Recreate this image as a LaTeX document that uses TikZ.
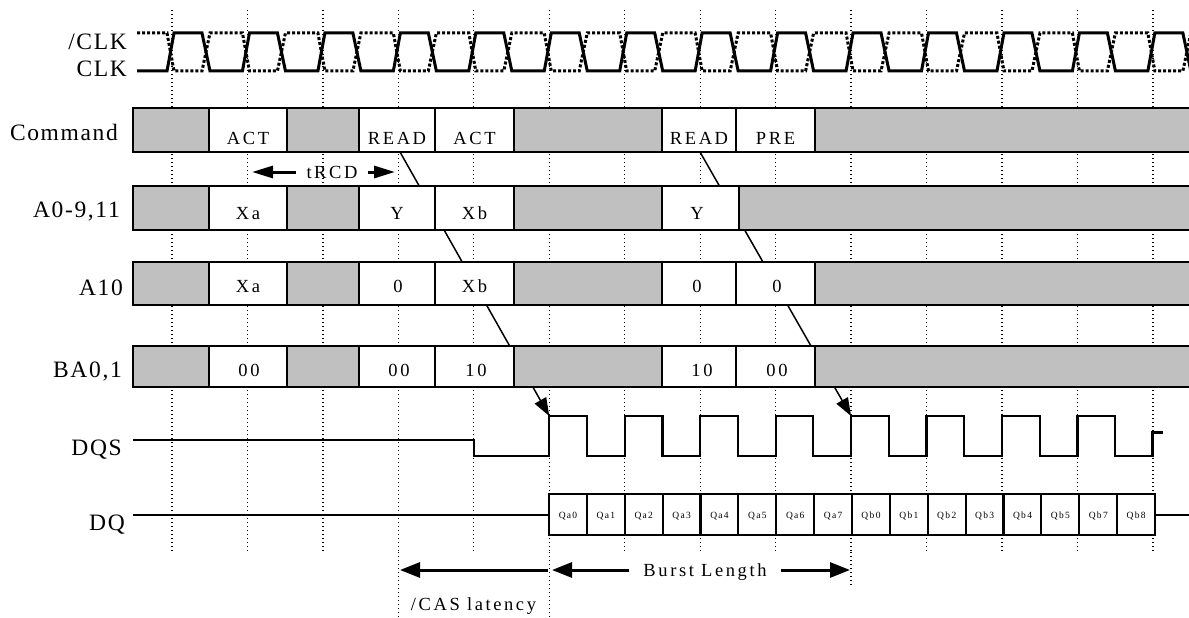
\documentclass[tikz,border=0pt]{standalone}
\usepackage{fontspec}
\setmainfont{Liberation Serif}
\newfontfamily\sigfont[LetterSpace=7]{Liberation Serif}
\newfontfamily\boxfont[LetterSpace=14]{Liberation Serif}
\usetikzlibrary{arrows.meta}
\definecolor{busgray}{RGB}{192,192,192}

\tikzset{
  cycline/.style={line width=1.3pt,dash pattern=on 1.3pt off 2.7pt},
  clkline/.style={line width=3pt},
  nclkline/.style={line width=3pt,dash pattern=on 3pt off 2pt},
  idlebox/.style={fill=busgray,draw=black,line width=2.5pt},
  databox/.style={fill=white,draw=black,line width=2.5pt},
  dqsline/.style={line width=2.2pt},
  dqbox/.style={fill=white,draw=black,line width=2.2pt},
  rowlbl/.style={anchor=base east,inner sep=0pt,font=\sigfont\fontsize{23.5}{23.5}\selectfont},
  boxlbl/.style={anchor=base,inner sep=0pt,font=\boxfont\fontsize{18.5}{18.5}\selectfont},
  dqlbl/.style={anchor=base,inner sep=0pt,font=\boxfont\fontsize{9.5}{9.5}\selectfont},
  spanlbl/.style={inner xsep=12pt,inner ysep=0pt,text depth=0pt,font=\boxfont\fontsize{18.5}{18.5}\selectfont},
  spanarr/.style={line width=3pt,-{Triangle[length=20pt,width=15pt]}},
  rcdarr/.style={line width=3pt,-{Triangle[length=21pt,width=12pt]}},
  cause/.style={line width=1.5pt,-{Triangle[length=18pt,width=13pt]}}
}

\begin{document}
\begin{tikzpicture}[x=1pt,y=-1pt]
\useasboundingbox (0,0) rectangle (1189,618);

\foreach \i in {0,...,13} \draw[cycline] ({172+75.45*\i},10) -- ({172+75.45*\i},552);
\draw[cycline] (398.35,552) -- (398.35,618) (549.25,552) -- (549.25,618) (851.05,552) -- (851.05,585);

\draw[clkline] (137,71) \foreach \i in {0,...,13} {-- ({167+75.45*\i},71) -- ({174+75.45*\i},33) -- ({202+75.45*\i},33) -- ({210+75.45*\i},71)};
\draw[nclkline] (137,33) \foreach \i in {0,...,13} {-- ({167+75.45*\i},33) -- ({174+75.45*\i},71) -- ({202+75.45*\i},71) -- ({210+75.45*\i},33)};

\coordinate (rd1) at (400,152); \coordinate (dqs1) at (549.25,416);
\coordinate (rd2) at (700,152); \coordinate (dqs2) at (851.05,416);
\draw[cause] (rd1) -- (dqs1); \draw[cause] (rd2) -- (dqs2);

\draw[idlebox] (133,108) rectangle (209,152); \draw[databox] (209,108) rectangle (287,152); \draw[idlebox] (287,108) rectangle (359,152);
\draw[databox] (359,108) rectangle (435,152); \draw[databox] (435,108) rectangle (514,152); \draw[idlebox] (514,108) rectangle (662,152);
\draw[databox] (662,108) rectangle (736,152); \draw[databox] (736,108) rectangle (815,152); \draw[idlebox] (815,108) rectangle (1200,152);
\node[boxlbl] (act1) at (248,144) {ACT}; \node[boxlbl] (read1) at (397,144) {READ}; \node[boxlbl] (act2) at (474.5,144) {ACT};
\node[boxlbl] (read2) at (699,144) {READ}; \node[boxlbl] (pre) at (775.5,144) {PRE};

\draw[idlebox] (133,186) rectangle (209,230); \draw[databox] (209,186) rectangle (287,230); \draw[idlebox] (287,186) rectangle (359,230);
\draw[databox] (359,186) rectangle (435,230); \draw[databox] (435,186) rectangle (514,230); \draw[idlebox] (514,186) rectangle (662,230);
\draw[databox] (662,186) rectangle (739,230); \draw[idlebox] (739,186) rectangle (1200,230);
\node[boxlbl] (adrxa) at (248,219) {Xa}; \node[boxlbl] (adry1) at (397,219) {Y}; \node[boxlbl] (adrxb) at (474.5,219) {Xb};
\node[boxlbl] (adry2) at (697,219) {Y};

\draw[idlebox] (133,262) rectangle (209,305); \draw[databox] (209,262) rectangle (287,305); \draw[idlebox] (287,262) rectangle (359,305);
\draw[databox] (359,262) rectangle (435,305); \draw[databox] (435,262) rectangle (514,305); \draw[idlebox] (514,262) rectangle (662,305);
\draw[databox] (662,262) rectangle (736,305); \draw[databox] (736,262) rectangle (815,305); \draw[idlebox] (815,262) rectangle (1200,305);
\node[boxlbl] (apxa) at (248,292) {Xa}; \node[boxlbl] (ap0a) at (398,292) {0}; \node[boxlbl] (apxb) at (474.5,292) {Xb};
\node[boxlbl] (ap0b) at (697,292) {0}; \node[boxlbl] (ap0c) at (777,292) {0};

\draw[idlebox] (133,346) rectangle (209,387); \draw[databox] (209,346) rectangle (287,387); \draw[idlebox] (287,346) rectangle (359,387);
\draw[databox] (359,346) rectangle (435,387); \draw[databox] (435,346) rectangle (514,387); \draw[idlebox] (514,346) rectangle (662,387);
\draw[databox] (662,346) rectangle (736,387); \draw[databox] (736,346) rectangle (815,387); \draw[idlebox] (815,346) rectangle (1200,387);
\node[boxlbl] (ba1) at (249,376) {00}; \node[boxlbl] (ba2) at (399,376) {00}; \node[boxlbl] (ba3) at (476,376) {10};
\node[boxlbl] (ba4) at (702,376) {10}; \node[boxlbl] (ba5) at (777,376) {00};

\draw[dqsline] (133,440) -- (473.8,440) -- (473.8,456) -- (549.25,456) -- (549.25,416) -- (587,416) -- (587,456) -- (624.7,456) -- (624.7,416)
  -- (662.4,416) -- (662.4,456) -- (700.15,456) -- (700.15,416) -- (737.9,416) -- (737.9,456) -- (775.6,456) -- (775.6,416) -- (813.3,416)
  -- (813.3,456) -- (851.05,456) -- (851.05,416) -- (888.8,416) -- (888.8,456) -- (926.5,456) -- (926.5,416) -- (964.2,416) -- (964.2,456)
  -- (1001.95,456) -- (1001.95,416) -- (1039.7,416) -- (1039.7,456) -- (1077.4,456) -- (1077.4,416) -- (1115.1,416) -- (1115.1,456) -- (1152.85,456);
\draw[line width=3pt] (1152.85,457) -- (1152.85,432) -- (1163,432);

\draw[dqsline] (133,515) -- (549,515); \draw[dqsline] (1155,515) -- (1195,515);
\foreach \q [count=\k from 0] in {Qa0,Qa1,Qa2,Qa3,Qa4,Qa5,Qa6,Qa7,Qb0,Qb1,Qb2,Qb3,Qb4,Qb5,Qb7,Qb8} {
  \draw[dqbox] ({549+37.875*\k},494) rectangle ({549+37.875*(\k+1)},535);
  \node[dqlbl] (q\k) at ({568+37.875*\k},518.5) {\q};
}

\node[spanlbl,inner xsep=10pt] (trcd) at (332,172) {tRCD};
\coordinate (rcdl) at (252,172); \coordinate (rcdr) at (395,172);
\draw[rcdarr] (trcd) -- (rcdl); \draw[rcdarr] (trcd) -- (rcdr);

\coordinate (casl) at (400,570); \coordinate (casr) at (548,570);
\draw[spanarr,{Triangle[length=20pt,width=15pt]}-] (casl) -- (casr);
\node[boxlbl] (cas) at (473.5,610) {/CAS latency};

\node[spanlbl,inner xsep=14pt] (burst) at (705,570) {Burst Length};
\coordinate (bll) at (552,570); \coordinate (blr) at (850,570);
\draw[spanarr] (burst) -- (bll); \draw[spanarr] (burst) -- (blr);

\node[rowlbl] (nclk) at (127,50) {/CLK};
\node[rowlbl] (clk) at (127,77) {CLK};
\node[rowlbl] (cmd) at (118,140) {Command};
\node[rowlbl] (adr) at (120,217) {A0-9,11};
\node[rowlbl] (a10) at (123,295) {A10};
\node[rowlbl] (ba) at (122,377) {BA0,1};
\node[rowlbl] (dqs) at (122,455) {DQS};
\node[rowlbl] (dq) at (125,530) {DQ};
\end{tikzpicture}
\end{document}
